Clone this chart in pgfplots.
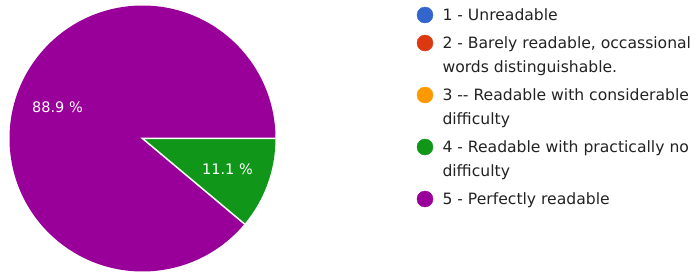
\documentclass[border=0pt]{standalone}
\usepackage{fontspec}
\setmainfont{DejaVu Sans}
\usepackage{pgfplots}
\pgfplotsset{compat=1.18}
\definecolor{cblue}{HTML}{3366CC}
\definecolor{cred}{HTML}{DC3912}
\definecolor{corange}{HTML}{FF9900}
\definecolor{cgreen}{HTML}{109618}
\definecolor{cpurple}{HTML}{990099}
\definecolor{ctext}{HTML}{222222}
% shares (percent) of the five answers
\newcommand{\valA}{0}
\newcommand{\valB}{0}
\newcommand{\valC}{0}
\newcommand{\valD}{11.1}
\newcommand{\valE}{88.9}
\newcommand{\legtext}[1]{\parbox[t]{250bp}{\leavevmode\rule{0pt}{16bp}#1\rule[-12bp]{0pt}{12bp}}}
\begin{document}
\begin{tikzpicture}
\pgfmathsetmacro\ga{-3.6*\valD}
\pgfmathsetmacro\gmid{\ga/2}
\pgfmathsetmacro\pmid{(\ga-360)/2}
\begin{axis}[
  at={(142.5bp,134.5bp)}, anchor=center,
  width=266bp, height=266bp, scale only axis,
  xmin=-1, xmax=1, ymin=-1, ymax=1,
  hide axis, clip=false,
  legend cell align=left,
  legend image code/.code={\draw[#1] plot coordinates {(8bp,5.5bp)};},
  legend style={at={(axis cs:2.0639,1.0075)}, anchor=north west,
    draw=none, fill=none, inner sep=0pt, outer sep=0pt,
    row sep=0pt, column sep=9.5bp, text=ctext,
    font=\fontsize{15.6bp}{24bp}\selectfont,
    cells={anchor=base west}, nodes={inner sep=0pt, outer sep=0pt, anchor=base west, text depth={}, text height={}}},
]
\fill[cpurple] (axis cs:0,0) -- (\ga:1) arc[start angle=\ga, end angle=-360, radius=1] -- cycle;
\fill[cgreen] (axis cs:0,0) -- (axis cs:1,0) arc[start angle=0, end angle=\ga, radius=1] -- cycle;
\draw[white, line width=1.5bp] (axis cs:1,0) -- (axis cs:0,0) -- (\ga:1);
\node[white, font=\fontsize{14.5bp}{16bp}\selectfont] at (\pmid:0.68) {\valE\ \%};
\node[white, font=\fontsize{14.5bp}{16bp}\selectfont] at (\gmid:0.68) {\valD\ \%};
\addlegendimage{only marks, mark=*, mark size=8bp, color=cblue}
\addlegendentry{\legtext{1 - Unreadable}}
\addlegendimage{only marks, mark=*, mark size=8bp, color=cred}
\addlegendentry{\legtext{2 - Barely readable, occassional\par words distinguishable.}}
\addlegendimage{only marks, mark=*, mark size=8bp, color=corange}
\addlegendentry{\legtext{3 -{}- Readable with considerable\par difficulty}}
\addlegendimage{only marks, mark=*, mark size=8bp, color=cgreen}
\addlegendentry{\legtext{4 - Readable with practically no\par difficulty}}
\addlegendimage{only marks, mark=*, mark size=8bp, color=cpurple}
\addlegendentry{\legtext{5 - Perfectly readable}}
\end{axis}
\pgfresetboundingbox
\useasboundingbox (0,0) rectangle (697bp,273bp);
\end{tikzpicture}
\end{document}
